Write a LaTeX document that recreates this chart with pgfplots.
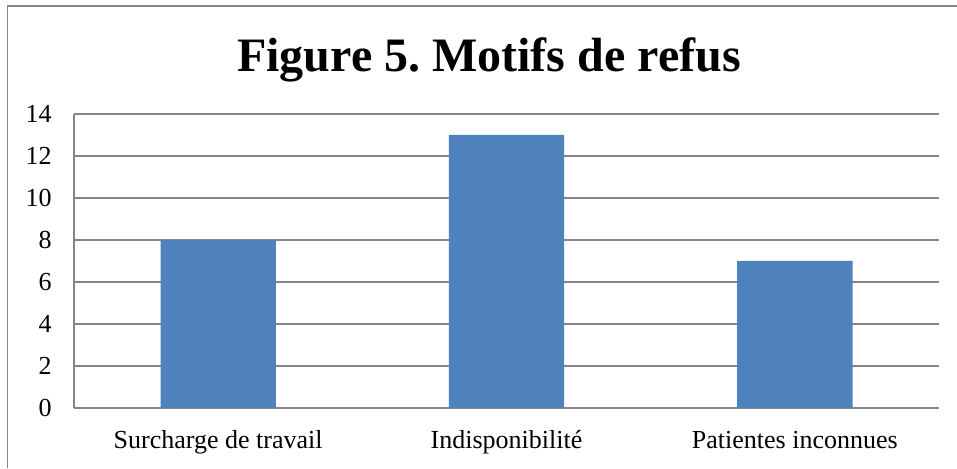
\documentclass[border=0pt]{standalone}
\usepackage{pgfplots}
\pgfplotsset{compat=1.18}
\usepackage{fontspec}
\setmainfont{Liberation Serif}
\definecolor{barblue}{HTML}{4F81BD}
\definecolor{gridgray}{HTML}{868686}
\frenchspacing
\begin{document}
\begin{tikzpicture}
\useasboundingbox (0,0) rectangle (717.75pt,351pt);
\draw[gridgray, line width=1.2pt] (5.625pt,0) -- (5.625pt,346.5pt) -- (717.75pt,346.5pt);
\node[anchor=base, inner sep=0pt, font=\fontsize{36}{43}\selectfont\bfseries] at (366.75pt,297pt) {Figure 5.\ Motifs de refus};
\begin{axis}[
  at={(55.5pt,45pt)}, anchor=south west,
  scale only axis, width=648.75pt, height=220.5pt,
  ybar, bar width=0.4,
  xmin=-0.5, xmax=2.5, ymin=0, ymax=14,
  ytick={0,2,...,14},
  xtick={0,1,2},
  xticklabels={Surcharge de travail, Indisponibilité, Patientes inconnues},
  axis x line*=bottom, axis y line*=left,
  axis line style={gridgray, line width=1pt, -},
  ymajorgrids, grid style={gridgray, line width=1pt},
  major tick length=0pt,
  /pgf/number format/assume math mode=true,
  tick label style={font=\fontsize{19.5}{23}\selectfont},
  xticklabel style={anchor=base, inner sep=0pt, yshift=-30pt},
  yticklabel style={anchor=east, inner sep=0pt, xshift=-16.5pt},
]
\addplot[fill=barblue, draw=none] coordinates {(0,8) (1,13) (2,7)};
\end{axis}
\end{tikzpicture}
\end{document}
